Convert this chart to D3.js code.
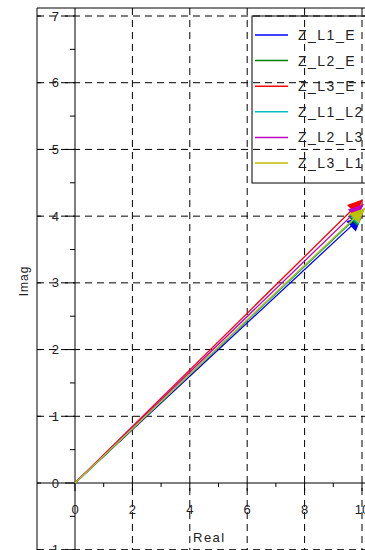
<!DOCTYPE html>
<html>
<head>
<meta charset="utf-8">
<script src="https://cdn.jsdelivr.net/npm/d3@7"></script>
<style>
  body { margin: 0; background: #fff; }
  text { font-family: "Liberation Sans", Arial, sans-serif; fill: #222; }
</style>
</head>
<body>
<svg id="chart" width="365" height="550"></svg>
<script>
// phasor plot: impedances as arrows from the origin

const seriesNames = ["Z_L1_E", "Z_L2_E", "Z_L3_E", "Z_L1_L2", "Z_L2_L3", "Z_L3_L1"];
const seriesColors = ["#0000ff", "#008000", "#ff0000", "#00bfbf", "#bf00bf", "#bfbf00"];
const realEnd = [10.0, 10.05, 10.02, 10.08, 10.05, 10.1];
const imagEnd = [4.0, 4.08, 4.25, 4.1, 4.18, 4.12];

const xTicks = [0, 2, 4, 6, 8, 10];
const xMinor = [1, 3, 5, 7, 9];
const yTicks = [-1, 0, 1, 2, 3, 4, 5, 6, 7];
const yMinor = [-0.5, 0.5, 1.5, 2.5, 3.5, 4.5, 5.5, 6.5];

const W = 365, H = 550;
const svg = d3.select("#chart");

const x = d3.scaleLinear().domain([0, 10]).range([75, 362]);
const y = d3.scaleLinear().domain([0, 7]).range([483, 16]);

const frameLeft = 37, frameTop = 8;

// grid
svg.append("g").selectAll("line").data(yTicks.filter(d => d != 0)).join("line")
    .attr("x1", frameLeft).attr("x2", W)
    .attr("y1", d => y(d)).attr("y2", d => y(d))
    .attr("stroke", "#000").attr("stroke-dasharray", "7,5");
svg.append("g").selectAll("line").data(xTicks.filter(d => d != 0)).join("line")
    .attr("x1", d => x(d)).attr("x2", d => x(d))
    .attr("y1", frameTop).attr("y2", H)
    .attr("stroke", "#000").attr("stroke-dasharray", "7,5");

// frame + axes through origin
svg.append("line").attr("x1", frameLeft).attr("x2", frameLeft).attr("y1", frameTop).attr("y2", H).attr("stroke", "#000");
svg.append("line").attr("x1", frameLeft).attr("x2", W).attr("y1", frameTop).attr("y2", frameTop).attr("stroke", "#000");
svg.append("line").attr("x1", x(0)).attr("x2", x(0)).attr("y1", frameTop).attr("y2", H).attr("stroke", "#000");
svg.append("line").attr("x1", frameLeft).attr("x2", W).attr("y1", y(0)).attr("y2", y(0)).attr("stroke", "#000");

// ticks
svg.append("g").selectAll("line").data(yTicks).join("line")
    .attr("x1", x(0) - 10).attr("x2", x(0))
    .attr("y1", d => y(d)).attr("y2", d => y(d)).attr("stroke", "#000");
svg.append("g").selectAll("line").data(yMinor).join("line")
    .attr("x1", x(0) - 5).attr("x2", x(0))
    .attr("y1", d => y(d)).attr("y2", d => y(d)).attr("stroke", "#000");
svg.append("g").selectAll("line").data(yTicks).join("line")
    .attr("x1", frameLeft).attr("x2", frameLeft + 4)
    .attr("y1", d => y(d)).attr("y2", d => y(d)).attr("stroke", "#000");
svg.append("g").selectAll("line").data(xTicks).join("line")
    .attr("x1", d => x(d)).attr("x2", d => x(d))
    .attr("y1", y(0)).attr("y2", y(0) + 8).attr("stroke", "#000");
svg.append("g").selectAll("line").data(xMinor).join("line")
    .attr("x1", d => x(d)).attr("x2", d => x(d))
    .attr("y1", y(0)).attr("y2", y(0) + 4).attr("stroke", "#000");

// tick labels
svg.append("g").selectAll("text").data(yTicks).join("text")
    .attr("x", 59).attr("y", d => y(d)).attr("dy", "0.35em")
    .attr("text-anchor", "end").style("font-size", "13px")
    .text(d => d);
svg.append("g").selectAll("text").data(xTicks).join("text")
    .attr("x", d => x(d)).attr("y", 514)
    .attr("text-anchor", "middle").style("font-size", "13px")
    .text(d => d);

// axis titles
svg.append("text").attr("x", 193).attr("y", 542)
    .style("font-size", "13px").style("letter-spacing", "1.5px").text("Real");
svg.append("text").attr("transform", "translate(28,281) rotate(-90)")
    .attr("text-anchor", "middle")
    .style("font-size", "12px").style("letter-spacing", "1px").text("Imag");

// arrows
const arrows = svg.append("g");
seriesNames.forEach((name, i) => {
    const x0 = x(0), y0 = y(0);
    const x1 = x(realEnd[i]), y1 = y(imagEnd[i]);
    const ang = Math.atan2(y1 - y0, x1 - x0);
    const len = 15, half = 7;
    arrows.append("line")
        .attr("x1", x0).attr("y1", y0).attr("x2", x1).attr("y2", y1)
        .attr("stroke", seriesColors[i]).attr("stroke-width", 1.3);
    const bx = x1 - len * Math.cos(ang), by = y1 - len * Math.sin(ang);
    const pts = [
        [x1, y1],
        [bx + half * Math.sin(ang), by - half * Math.cos(ang)],
        [bx - half * Math.sin(ang), by + half * Math.cos(ang)]
    ];
    arrows.append("polygon")
        .attr("points", pts.map(p => p.join(",")).join(" "))
        .attr("fill", seriesColors[i]);
});

// legend
const legend = svg.append("g").attr("transform", "translate(252,16)");
legend.append("rect").attr("width", 140).attr("height", 167)
    .attr("fill", "none").attr("stroke", "#000");
seriesNames.forEach((name, i) => {
    const ly = 19 + i * 25.6;
    legend.append("line").attr("x1", 3).attr("x2", 36)
        .attr("y1", ly).attr("y2", ly)
        .attr("stroke", seriesColors[i]).attr("stroke-width", 1.5);
    legend.append("text").attr("x", 46).attr("y", ly).attr("dy", "0.35em")
        .style("font-size", "14px").style("letter-spacing", "1.5px")
        .text(name);
});
</script>
</body>
</html>
